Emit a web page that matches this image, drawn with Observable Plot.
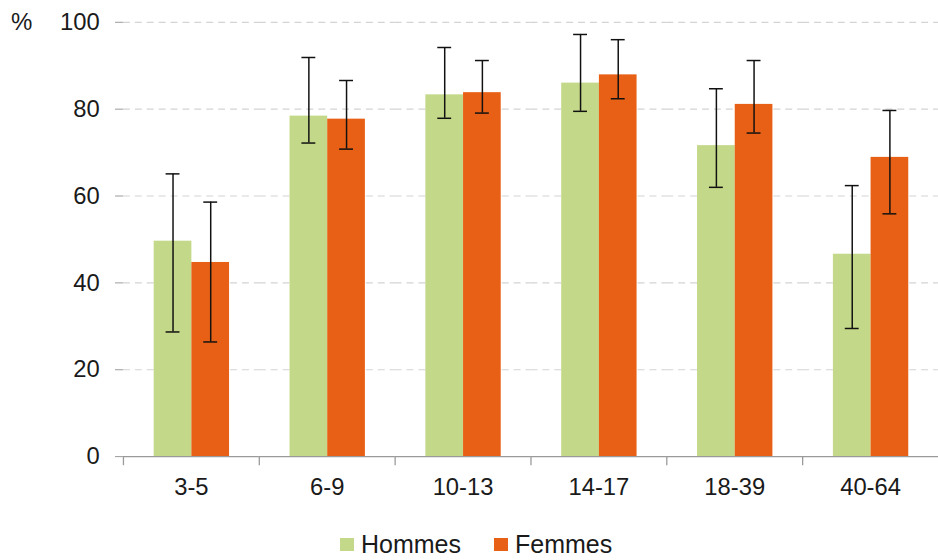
<!DOCTYPE html>
<html>
<head>
<meta charset="utf-8">
<script src="https://cdn.jsdelivr.net/npm/d3@7"></script>
<script src="https://cdn.jsdelivr.net/npm/@observablehq/plot@0.6"></script>
<style>
  html, body { margin: 0; padding: 0; background: #fff; overflow: hidden; width: 938px; height: 560px; }
  body { font-family: "Liberation Sans", Arial, sans-serif; position: relative; }
  #pct { position: absolute; left: 11px; top: 8px; font-size: 24px; line-height: 28px; color: #1a1a1a; }
  #legend { position: absolute; left: 340px; top: 530px; height: 29px; display: flex; align-items: center; font-size: 25px; line-height: 29px; color: #1a1a1a; }
  #legend .item { display: flex; align-items: center; margin-right: 33px; }
  #legend .sw { width: 14px; height: 13px; margin-right: 7px; }
</style>
</head>
<body>
<div id="chart"></div>
<div id="pct">%</div>
<div id="legend"></div>
<script>
const ages = ["3-5", "6-9", "10-13", "14-17", "18-39", "40-64"];
const series = ["Hommes", "Femmes"];
const colors = ["#c3d888", "#e86015"];
const hommes   = [49.6, 78.4, 83.3, 86.0, 71.6, 46.6];
const hommesLo = [28.7, 72.2, 77.9, 79.5, 62.0, 29.5];
const hommesHi = [65.1, 91.9, 94.2, 97.2, 84.7, 62.4];
const femmes   = [44.7, 77.7, 83.8, 87.9, 81.1, 68.9];
const femmesLo = [26.4, 70.8, 79.1, 82.4, 74.5, 55.9];
const femmesHi = [58.6, 86.6, 91.2, 96.0, 91.2, 79.7];
const yTicks = [0, 20, 40, 60, 80, 100];
const gridTicks = [20, 40, 60, 80, 100];

const data = [];
ages.forEach((a, i) => {
  data.push({age: a, sex: "Hommes", v: hommes[i], lo: hommesLo[i], hi: hommesHi[i]});
  data.push({age: a, sex: "Femmes", v: femmes[i], lo: femmesLo[i], hi: femmesHi[i]});
});

const W = 946, H = 515, mt = 22, mb = 55, ml = 124;
const innerH = H - mt - mb;
const txt = "#1a1a1a";
const axisGray = "#9a9a9a";

const chart = Plot.plot({
  width: W,
  height: H,
  marginTop: mt,
  marginBottom: mb,
  marginLeft: ml,
  marginRight: 0,
  style: {fontFamily: "'Liberation Sans', Arial, sans-serif", fontSize: "24px", background: "#fff", overflow: "visible"},
  fx: {domain: ages, padding: 0, label: null},
  x: {domain: series, paddingInner: 0, paddingOuter: 0.757, axis: null},
  y: {domain: [0, 100], label: null},
  color: {domain: series, range: colors},
  marks: [
    Plot.ruleY(gridTicks, {y: d => d, stroke: "#d4d4d4", strokeWidth: 1.2, strokeDasharray: "7,5"}),
    Plot.barY(data, {fx: "age", x: "sex", y: "v", fill: "sex"}),
    Plot.ruleX(data, {fx: "age", x: "sex", y1: "lo", y2: "hi", stroke: "#111", strokeWidth: 1.5}),
    Plot.tickY(data, {fx: "age", x: "sex", y: "lo", stroke: "#111", strokeWidth: 1.5, insetLeft: 12, insetRight: 12}),
    Plot.tickY(data, {fx: "age", x: "sex", y: "hi", stroke: "#111", strokeWidth: 1.5, insetLeft: 12, insetRight: 12}),
    Plot.ruleY([0], {stroke: axisGray, strokeWidth: 1.3}),
    Plot.frame({anchor: "left", stroke: axisGray, strokeWidth: 1.3, insetTop: innerH, insetBottom: -8}),
    Plot.axisY(yTicks, {anchor: "left", tickSize: 8, tickPadding: 16, fontSize: 24, color: txt, stroke: axisGray, label: null}),
    Plot.ruleX([0], {frameAnchor: "left", y1: 0, y2: 100, stroke: axisGray, strokeWidth: 1.3, facet: false}),
    Plot.axisFx({anchor: "bottom", tickSize: 0, tickPadding: 22, fontSize: 24, color: txt, label: null})
  ]
});
document.getElementById("chart").appendChild(chart);

const legend = document.getElementById("legend");
series.forEach((s, i) => {
  const item = document.createElement("div");
  item.className = "item";
  const sw = document.createElement("div");
  sw.className = "sw";
  sw.style.background = colors[i];
  const t = document.createElement("span");
  t.textContent = s;
  item.appendChild(sw);
  item.appendChild(t);
  legend.appendChild(item);
});
</script>
</body>
</html>
